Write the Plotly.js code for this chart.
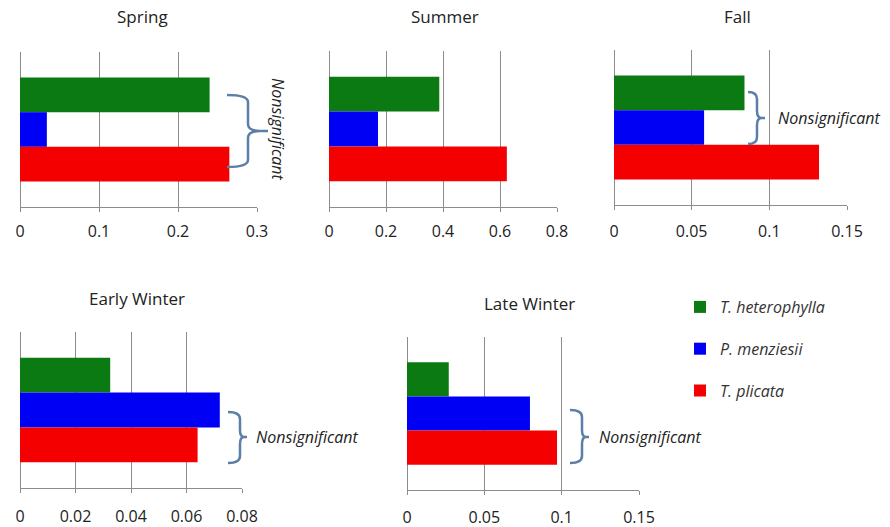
<!DOCTYPE html>
<html>
<head>
<meta charset="utf-8">
<script src="https://cdn.plot.ly/plotly-3.0.1.min.js"></script>
<style>html,body{margin:0;padding:0;background:#fff;}#chart{width:890px;height:527px;}</style>
</head>
<body>
<div id="chart"></div>
<script>
// ---- data ----
const seasons = ['Spring', 'Summer', 'Fall', 'Early Winter', 'Late Winter'];
const species = ['T. heterophylla', 'P. menziesii', 'T. plicata'];
const heterophylla = [0.240, 0.387, 0.084, 0.0325, 0.027];
const menziesii = [0.034, 0.172, 0.058, 0.072, 0.0795];
const plicata = [0.265, 0.624, 0.132, 0.064, 0.097];
const xMax = [0.3, 0.8, 0.15, 0.08, 0.15];
const xStep = [0.1, 0.2, 0.05, 0.02, 0.05];
const noteText = 'Nonsignificant';

// ---- layout helpers (pixels -> paper) ----
const W = 890, H = 527;
const X = p => p / W;
const Y = p => 1 - p / H;
const panels = [ // left, right, top, bottom in px
  [20, 257, 52, 207],
  [329, 557, 51, 207],
  [614, 847, 50, 205],
  [20, 242, 332, 488],
  [407, 639, 337, 490]
];
const standoff = [6, 6, 8, 10, 9];
const titlePos = [[142, 17], [445, 17], [737, 17], [137, 298], [529, 303]];
const colors = ['#0b7a12', '#0000f5', '#f50000'];
const seriesVals = [heterophylla, menziesii, plicata];
const gridCol = '#8c8c8c';
const font = 'Open Sans, Liberation Sans, sans-serif';

const data = [];
const layout = {
  width: W, height: H,
  margin: {l: 0, r: 0, t: 0, b: 0},
  paper_bgcolor: '#fff', plot_bgcolor: '#fff',
  barmode: 'group', bargap: 0.33, bargroupgap: 0,
  showlegend: true,
  legend: {
    x: X(680), y: Y(290), xanchor: 'left', yanchor: 'top',
    traceorder: 'grouped', tracegroupgap: 18,
    font: {family: font, size: 16, color: '#333', style: 'italic'},
    bgcolor: 'rgba(0,0,0,0)'
  },
  annotations: [],
  shapes: []
};

seasons.forEach((s, i) => {
  const n = i + 1;
  const xa = 'xaxis' + (n === 1 ? '' : n), ya = 'yaxis' + (n === 1 ? '' : n);
  const xr = 'x' + (n === 1 ? '' : n), yr = 'y' + (n === 1 ? '' : n);
  const [l, r, t, b] = panels[i];
  layout[xa] = {
    domain: [X(l), X(r)], anchor: yr,
    range: [0, xMax[i]], dtick: xStep[i], tick0: 0,
    showgrid: true, gridcolor: gridCol, gridwidth: 1,
    zeroline: true, zerolinecolor: gridCol, zerolinewidth: 1,
    showline: true, linecolor: gridCol, linewidth: 1,
    ticks: 'outside', ticklen: 4, tickcolor: gridCol,
    tickfont: {family: font, size: 16, color: '#222'},
    ticklabelstandoff: standoff[i],
    fixedrange: true
  };
  layout[ya] = {
    domain: [Y(b), Y(t)], anchor: xr,
    type: 'category', range: [0.5, -0.5],
    showticklabels: false, showgrid: false, zeroline: false, showline: false, ticks: '',
    fixedrange: true
  };
  species.forEach((sp, k) => {
    data.push({
      type: 'bar', orientation: 'h',
      x: [seriesVals[k][i]], y: [s],
      name: sp, legendgroup: sp, showlegend: i === 0,
      marker: {color: colors[k]},
      xaxis: xr, yaxis: yr, hoverinfo: 'x+name'
    });
  });
  layout.annotations.push({
    text: s, xref: 'paper', yref: 'paper',
    x: X(titlePos[i][0]), y: Y(titlePos[i][1]),
    xanchor: 'center', yanchor: 'middle', showarrow: false,
    font: {family: font, size: 17, color: '#222'}
  });
});

// brackets and notes (decoration)
function brace(x0, x1, x2, y0, y1, ym) {
  const r = 7;
  const p = (x, y) => X(x).toFixed(5) + ',' + Y(y).toFixed(5);
  return 'M' + p(x0, y0) + ' Q' + p(x1, y0) + ' ' + p(x1, y0 + r) +
    ' L' + p(x1, ym - r) + ' Q' + p(x1, ym) + ' ' + p(x1 + (x2 - x1) * 0.6, ym) +
    ' L' + p(x2, ym) + ' M' + p(x1 + (x2 - x1) * 0.6, ym) +
    ' Q' + p(x1, ym) + ' ' + p(x1, ym + r) +
    ' L' + p(x1, y1 - r) + ' Q' + p(x1, y1) + ' ' + p(x0, y1);
}
const braces = [
  [227, 248, 268, 95, 167, 131],
  [748, 757, 765, 92, 144, 118],
  [228, 240, 247, 412, 463, 437],
  [570, 582, 589, 410, 463, 437]
];
braces.forEach(b => {
  layout.shapes.push({
    type: 'path', xref: 'paper', yref: 'paper', path: brace(...b),
    line: {color: '#5b7fa6', width: 2.5}
  });
});
const notes = [
  {x: 278, y: 129, angle: 90, anchor: 'center'},
  {x: 776, y: 118, angle: 0, anchor: 'left'},
  {x: 254, y: 437, angle: 0, anchor: 'left'},
  {x: 597, y: 437, angle: 0, anchor: 'left'}
];
notes.forEach(nn => {
  layout.annotations.push({
    text: noteText, xref: 'paper', yref: 'paper',
    x: X(nn.x), y: Y(nn.y), xanchor: nn.anchor, yanchor: 'middle',
    textangle: nn.angle, showarrow: false,
    font: {family: font, size: 16, color: '#222', style: 'italic'}
  });
});

Plotly.newPlot('chart', data, layout, {displayModeBar: false, staticPlot: true});
</script>
</body>
</html>
